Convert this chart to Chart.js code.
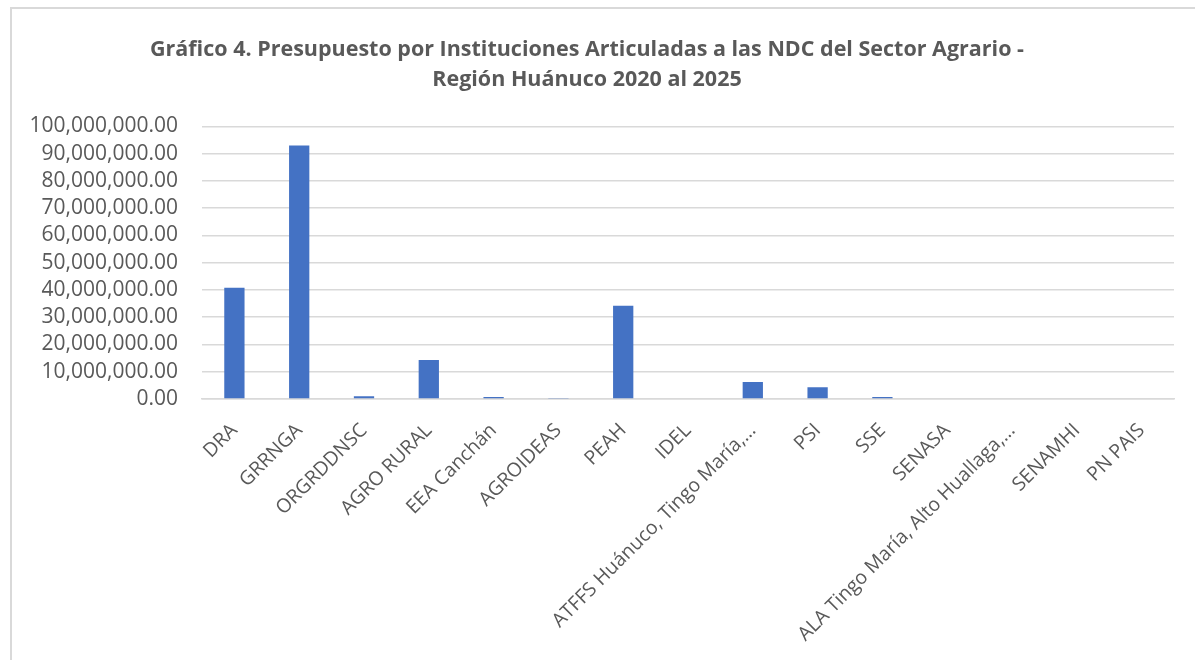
<!DOCTYPE html>
<html lang="es">
<head>
    <meta charset="UTF-8">
    <title>Gráfico 4</title>
    <script src="https://cdn.jsdelivr.net/npm/chart.js"></script>
    <style>
        body { margin: 0; background: #fff; }
        #frame { position: absolute; left: 10px; top: 7px; width: 1200px; height: 700px; border: 2px solid #d9d9d9; box-sizing: border-box; }
        #wrap { position: absolute; left: 0; top: 0; width: 1195px; height: 660px; }
    </style>
</head>
<body>
    <div id="frame"></div>
    <div id="wrap"><canvas id="budgetChart" width="1195" height="660"></canvas></div>
    <script>
        // Instituciones y presupuesto (S/)
        const instituciones = ['DRA', 'GRRNGA', 'ORGRDDNSC', 'AGRO RURAL', 'EEA Canchán', 'AGROIDEAS', 'PEAH', 'IDEL',
            'ATFFS Huánuco, Tingo María,…', 'PSI', 'SSE', 'SENASA', 'ALA Tingo María, Alto Huallaga,…', 'SENAMHI', 'PN PAIS'];
        const presupuesto = [40800000, 93000000, 1000000, 14300000, 750000, 400000, 34200000, 0,
            6200000, 4300000, 700000, 0, 0, 0, 0];
        const titulo = ['Gráfico 4. Presupuesto por Instituciones Articuladas a las NDC del Sector Agrario -',
            'Región Huánuco 2020 al 2025'];

        const gris = '#595959';
        const fuente = '"Open Sans", sans-serif';

        const ctx = document.getElementById('budgetChart').getContext('2d');
        new Chart(ctx, {
            type: 'bar',
            data: {
                labels: instituciones,
                datasets: [{
                    data: presupuesto,
                    backgroundColor: '#4472C4',
                    categoryPercentage: 1,
                    barPercentage: 0.313
                }]
            },
            options: {
                responsive: false,
                animation: false,
                layout: { padding: { left: 0, right: 21, top: 0, bottom: 0 } },
                plugins: {
                    legend: { display: false },
                    tooltip: { enabled: false },
                    title: {
                        display: true,
                        text: titulo,
                        color: gris,
                        font: { family: fuente, size: 21.5, weight: 'bold', lineHeight: 1.38 },
                        padding: { top: 35, bottom: 32 }
                    }
                },
                scales: {
                    x: {
                        grid: { display: false },
                        border: { display: true, color: '#d9d9d9', width: 1.5 },
                        ticks: {
                            color: gris,
                            font: { family: fuente, size: 19.5 },
                            minRotation: 45,
                            maxRotation: 45,
                            autoSkip: false,
                            padding: 12
                        },
                        afterFit: scale => { scale.height = 261; }
                    },
                    y: {
                        min: 0,
                        max: 100000000,
                        grid: { color: '#d9d9d9', lineWidth: 1.5, drawTicks: false },
                        border: { display: false },
                        ticks: {
                            stepSize: 10000000,
                            autoSkip: false,
                            color: gris,
                            font: { family: fuente, size: 21, lineHeight: 1 },
                            padding: 24,
                            callback: v => v.toLocaleString('en-US', { minimumFractionDigits: 2, maximumFractionDigits: 2 })
                        },
                        afterFit: scale => { scale.width = 202; }
                    }
                }
            }
        });
    </script>
</body>
</html>
